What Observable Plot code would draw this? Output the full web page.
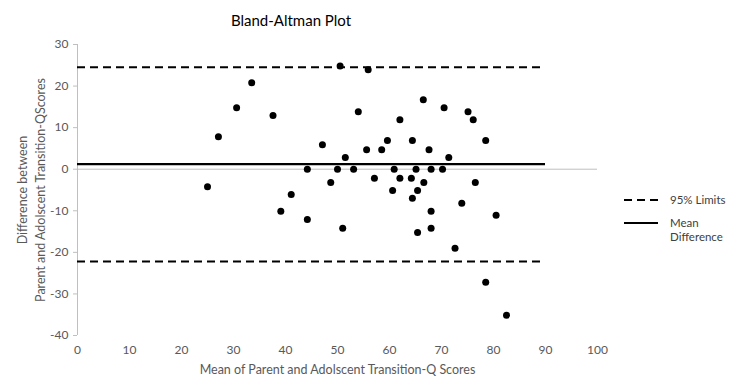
<!DOCTYPE html>
<html>
<head>
<meta charset="utf-8">
<script src="https://cdn.jsdelivr.net/npm/d3@7"></script>
<script src="https://cdn.jsdelivr.net/npm/@observablehq/plot@0.6"></script>
<style>
  body { margin: 0; background: #fff; }
  #wrap { position: relative; width: 739px; height: 387px; font-family: Lato, "Open Sans", sans-serif; }
  #title { position: absolute; left: 0; width: 582px; top: 10px; text-align: center; font-size: 15px; color: #000; line-height: 20px; }
  .leg { position: absolute; left: 624px; font-size: 11.5px; color: #404040; }
  .leg svg { position: absolute; left: 0; top: 0; }
  .leg span { position: absolute; left: 46px; top: 0; white-space: nowrap; line-height: 14px; }
</style>
</head>
<body>
<div id="wrap">
  <div id="chart"></div>
  <div id="title"></div>
  <div id="legend"></div>
</div>
<script>
// ---- data ----
const meanScore = [25.0, 27.1, 30.6, 33.5, 37.6, 39.1, 41.1, 44.2, 44.2, 47.1,
  48.7, 50.0, 50.5, 51.0, 51.5, 53.1, 54.0, 55.6, 55.9, 57.1,
  58.5, 59.6, 60.6, 60.9, 62.0, 62.0, 64.2, 64.4, 64.4, 65.1,
  65.4, 65.4, 66.5, 66.6, 67.6, 68.0, 68.0, 68.0, 70.2, 70.5,
  71.4, 72.6, 73.9, 75.1, 76.1, 76.5, 78.5, 78.5, 80.5, 82.5];
const difference = [-4.2, 7.8, 14.8, 20.8, 12.9, -10.1, -6.1, 0, -12.1, 5.9,
  -3.2, 0, 24.8, -14.2, 2.8, 0, 13.8, 4.7, 23.9, -2.2,
  4.7, 6.9, -5.1, 0, 11.9, -2.2, -2.2, 6.9, -7.0, 0,
  -5.1, -15.2, 16.7, -3.2, 4.7, 0, -10.1, -14.2, 0, 14.8,
  2.8, -19.0, -8.2, 13.8, 11.9, -3.2, 6.9, -27.2, -11.1, -35.1];
const limitNames = ["95% Limits", "Mean Difference"];
const meanDifference = 1.2;
const limits = [24.5, -22.2];
const lineRange = [0, 90];
const xTicks = [0, 10, 20, 30, 40, 50, 60, 70, 80, 90, 100];
const yTicks = [-40, -30, -20, -10, 0, 10, 20, 30];
const titleText = "Bland-Altman Plot";
const xLabel = "Mean of Parent and Adolscent Transition-Q Scores";
const yLabel = "Difference between\nParent and Adolscent Transition-QScores";

const points = meanScore.map((m, i) => ({m, d: difference[i]}));
const font = "Lato, 'Open Sans', sans-serif";

const chart = Plot.plot({
  width: 739, height: 387,
  marginLeft: 77, marginRight: 142, marginTop: 44, marginBottom: 52,
  x: {domain: [xTicks[0], xTicks[xTicks.length - 1]]},
  y: {domain: [yTicks[0], yTicks[yTicks.length - 1]]},
  style: {fontFamily: font, fontSize: "12px", background: "white", overflow: "visible"},
  marks: [
    Plot.ruleY([0], {stroke: "#bfbfbf", strokeWidth: 1}),
    Plot.ruleX([xTicks[0]], {stroke: "#bfbfbf", strokeWidth: 1}),
    Plot.axisY({ticks: yTicks, tickSize: 4, tickPadding: 5, stroke: "#bfbfbf", fill: "#595959", label: null, tickFormat: d => String(d).replace("\u2212", "-")}),
    Plot.axisX({ticks: xTicks, tickSize: 0, tickPadding: 10, fill: "#595959", label: null}),
    Plot.ruleY(limits, {x1: lineRange[0], x2: lineRange[1], stroke: "black", strokeWidth: 2, strokeDasharray: "8,5"}),
    Plot.ruleY([meanDifference], {x1: lineRange[0], x2: lineRange[1], stroke: "black", strokeWidth: 2.25}),
    Plot.dot(points, {x: "m", y: "d", r: 3.5, fill: "black", stroke: null}),
    Plot.text([xLabel], {frameAnchor: "bottom", dy: 38, fill: "#595959", fontSize: 12.5}),
    Plot.text([yLabel], {frameAnchor: "left", textAnchor: "middle", rotate: -90, dx: -47, lineHeight: 1.4, fill: "#595959", fontSize: 12.5})
  ]
});
document.getElementById("chart").appendChild(chart);
document.getElementById("title").textContent = titleText;

// legend
const legend = document.getElementById("legend");
const legendTops = [193, 216];
limitNames.forEach((name, i) => {
  const div = document.createElement("div");
  div.className = "leg";
  div.style.top = legendTops[i] + "px";
  const dash = i === 0 ? "stroke-dasharray='8,5'" : "";
  div.innerHTML = `<svg width="36" height="14"><line x1="0" x2="34" y1="7" y2="7" stroke="black" stroke-width="2" ${dash}/></svg>` +
    `<span>${i === 0 ? name : name.replace(" ", "<br>")}</span>`;
  legend.appendChild(div);
});
</script>
</body>
</html>
